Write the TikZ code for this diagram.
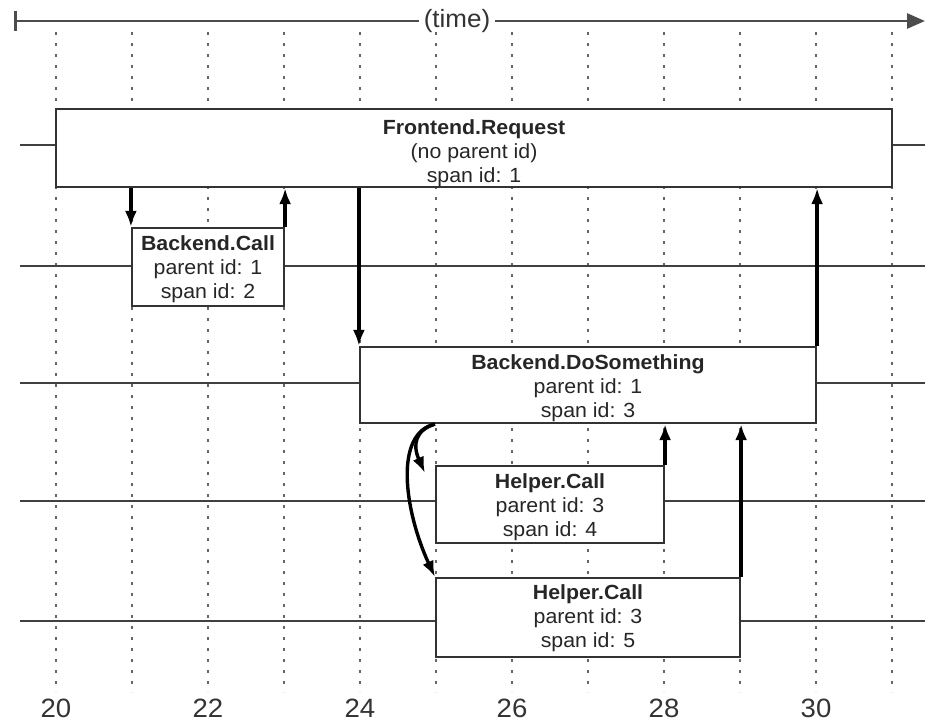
\documentclass[tikz,border=0pt]{standalone}
\usepackage{fontspec}
\setmainfont[FakeStretch=1.04]{Liberation Sans}
\usetikzlibrary{arrows.meta}
\newcommand\toplift[1]{\rule{0pt}{#1}}
\begin{document}
\begin{tikzpicture}[x=1pt,y=-1pt,
  grid/.style={black!60, line width=1.6pt, dash pattern=on 3pt off 8pt},
  lane/.style={black!75, line width=1.7pt},
  spanbox/.style={draw=black!80, line width=2.2pt, fill=white, align=center, inner sep=0pt,
    font=\fontsize{20.5}{24}\selectfont, text=black!85},
  arr/.style={black, line width=3.4pt, -{Latex[length=16pt,width=12pt]}},
  axis/.style={black!70, line width=2.8pt},
  lbl/.style={font=\fontsize{26.5}{30}\selectfont, text=black!80, inner sep=5pt}]
\useasboundingbox (0,0) rectangle (932,726);
% grid
\foreach \t in {0,...,11} \draw[grid] ({56+76*\t},32) -- ({56+76*\t},692);
% lanes
\foreach \y in {145,266,383,501,621} \draw[lane] (20,\y) -- (925,\y);
% time axis
\node[lbl, font=\fontsize{25}{28}\selectfont] (time) at (457,21) {(time)};
\coordinate (t0) at (14,21);
\coordinate (t1) at (925,21);
\draw[axis, {Bar[width=20pt,line width=2.6pt]}-] (t0) -- (time.west);
\draw[axis, -{Triangle[length=18pt,width=15pt]}] (time.east) -- (t1);
% spans
\node[spanbox, minimum width=836pt, minimum height=78pt] (fr) at (474,148)
  {\toplift{25pt}\textbf{Frontend.Request}\\(no parent id)\\span id: 1};
\node[spanbox, minimum width=152pt, minimum height=78pt] (bc) at (208,267)
  {\toplift{19.5pt}\textbf{Backend.Call}\\parent id: 1\\span id: 2};
\node[spanbox, minimum width=456pt, minimum height=76pt] (ds) at (588,385)
  {\toplift{20.5pt}\textbf{Backend.DoSomething}\\parent id: 1\\span id: 3};
\node[spanbox, minimum width=228pt, minimum height=77pt] (h4) at (550,504.5)
  {\toplift{19.5pt}\textbf{Helper.Call}\\parent id: 3\\span id: 4};
\node[spanbox, minimum width=304pt, minimum height=79pt] (h5) at (588,617.5)
  {\toplift{16.5pt}\textbf{Helper.Call}\\parent id: 3\\span id: 5};
% calls and returns
\draw[arr] (bc.north west |- fr.south) -- (bc.north west);
\draw[arr] (bc.north east) -- (bc.north east |- fr.south);
\draw[arr] (ds.north west |- fr.south) -- (ds.north west);
\draw[arr] (ds.north east) -- (ds.north east |- fr.south);
\draw[arr] (h4.north east) -- (h4.north east |- ds.south);
\draw[arr] (h5.north east) -- (h5.north east |- ds.south);
\coordinate (fork) at (h4.north west |- ds.south);
\coordinate (h4in) at ([xshift=-10pt,yshift=-8pt]h4.north west);
\draw[arr] (fork) .. controls (416,430) and (412,444) .. (h4in);
\draw[arr] (fork) .. controls (394,433) and (404,510) .. (h5.north west);
% time labels
\foreach \t/\n in {0/20,2/22,4/24,6/26,8/28,10/30}
  \node[lbl] (n\n) at ({56+76*\t},708) {\n};
\end{tikzpicture}
\end{document}
